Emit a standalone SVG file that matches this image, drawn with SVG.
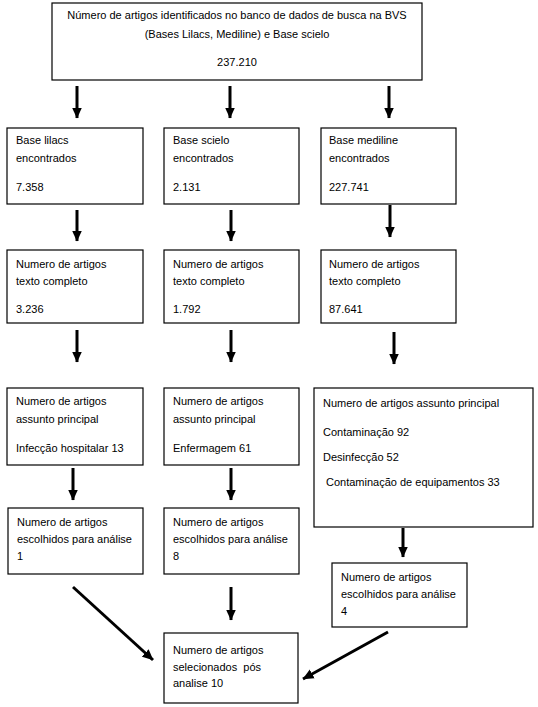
<svg xmlns="http://www.w3.org/2000/svg" width="538" height="707" viewBox="0 0 538 707">
<defs>
<marker id="ah" markerUnits="userSpaceOnUse" markerWidth="11" markerHeight="11" viewBox="0 0 11 11" refX="10.5" refY="5.5" orient="auto">
<path d="M0,0.5 L11,5.5 L0,10.5 Z" fill="#000"/>
</marker>
<style>
rect{fill:#fff;stroke:#000;stroke-width:1.2}
text{font-family:"Liberation Sans",Arial,sans-serif;font-size:11px;fill:#000}
.c{text-anchor:middle}
.e line{stroke:#000;stroke-width:3;marker-end:url(#ah)}
</style>
</defs>
<rect x="0" y="0" width="538" height="707" style="fill:#fff;stroke:none"/>
<g id="top"><rect x="52" y="3" width="370" height="77"/>
<text class="c" x="237" y="19">Número de artigos identificados no banco de dados de busca na BVS</text>
<text class="c" x="237" y="38">(Bases Lilacs, Mediline) e Base scielo</text>
<text class="c" x="237" y="66">237.210</text></g>
<g id="lilacs"><rect x="7" y="128" width="136" height="76"/>
<text x="16" y="144">Base lilacs</text><text x="16" y="162">encontrados</text><text x="16" y="191">7.358</text></g>
<g id="scielo"><rect x="164" y="128" width="135" height="76"/>
<text x="173" y="144">Base scielo</text><text x="173" y="162">encontrados</text><text x="173" y="191">2.131</text></g>
<g id="mediline"><rect x="321" y="128" width="135" height="76"/>
<text x="329" y="144">Base mediline</text><text x="329" y="162">encontrados</text><text x="329" y="191">227.741</text></g>
<g id="tc1"><rect x="7" y="250" width="136" height="73"/>
<text x="16" y="268">Numero de artigos</text><text x="16" y="285">texto completo</text><text x="16" y="313">3.236</text></g>
<g id="tc2"><rect x="164" y="250" width="135" height="73"/>
<text x="173" y="268">Numero de artigos</text><text x="173" y="285">texto completo</text><text x="173" y="313">1.792</text></g>
<g id="tc3"><rect x="321" y="250" width="135" height="73"/>
<text x="329" y="268">Numero de artigos</text><text x="329" y="285">texto completo</text><text x="329" y="313">87.641</text></g>
<g id="ap1"><rect x="7" y="388" width="136" height="77"/>
<text x="16" y="405">Numero de artigos</text><text x="16" y="423">assunto principal</text><text x="16" y="452">Infecção hospitalar 13</text></g>
<g id="ap2"><rect x="164" y="388" width="135" height="77"/>
<text x="173" y="405">Numero de artigos</text><text x="173" y="423">assunto principal</text><text x="173" y="452">Enfermagem 61</text></g>
<g id="ap3"><rect x="314" y="388" width="219" height="139"/>
<text x="323" y="407">Numero de artigos assunto principal</text><text x="323" y="436">Contaminação 92</text><text x="323" y="461">Desinfecção 52</text><text x="326" y="486">Contaminação de equipamentos 33</text></g>
<g id="es1"><rect x="8" y="508" width="135" height="66"/>
<text x="17" y="526">Numero de artigos</text><text x="17" y="543">escolhidos para análise</text><text x="17" y="560">1</text></g>
<g id="es2"><rect x="164" y="508" width="135" height="66"/>
<text x="173" y="526">Numero de artigos</text><text x="173" y="543">escolhidos para análise</text><text x="173" y="560">8</text></g>
<g id="es3"><rect x="332" y="563" width="135" height="64"/>
<text x="341" y="581">Numero de artigos</text><text x="341" y="598">escolhidos para análise</text><text x="341" y="615">4</text></g>
<g id="final"><rect x="164" y="633" width="134" height="70"/>
<text x="173" y="654">Numero de artigos</text><text x="173" y="671" xml:space="preserve">selecionados  pós</text><text x="173" y="687">analise 10</text></g>
<g class="e" id="connectors">
<line x1="77" y1="86" x2="77" y2="118"/>
<line x1="230" y1="86" x2="230" y2="118"/>
<line x1="389" y1="86" x2="389" y2="118"/>
<line x1="77" y1="210" x2="77" y2="241"/>
<line x1="231" y1="210" x2="231" y2="241"/>
<line x1="390" y1="205" x2="390" y2="237"/>
<line x1="77" y1="330" x2="77" y2="362"/>
<line x1="231" y1="330" x2="231" y2="362"/>
<line x1="394" y1="332" x2="394" y2="364"/>
<line x1="73" y1="468" x2="73" y2="500"/>
<line x1="231" y1="468" x2="231" y2="500"/>
<line x1="403" y1="528" x2="403" y2="557"/>
<line x1="231" y1="587" x2="231" y2="620"/>
<line x1="73" y1="587" x2="153" y2="660"/>
<line x1="388" y1="632" x2="303" y2="679"/>
</g>
</svg>
